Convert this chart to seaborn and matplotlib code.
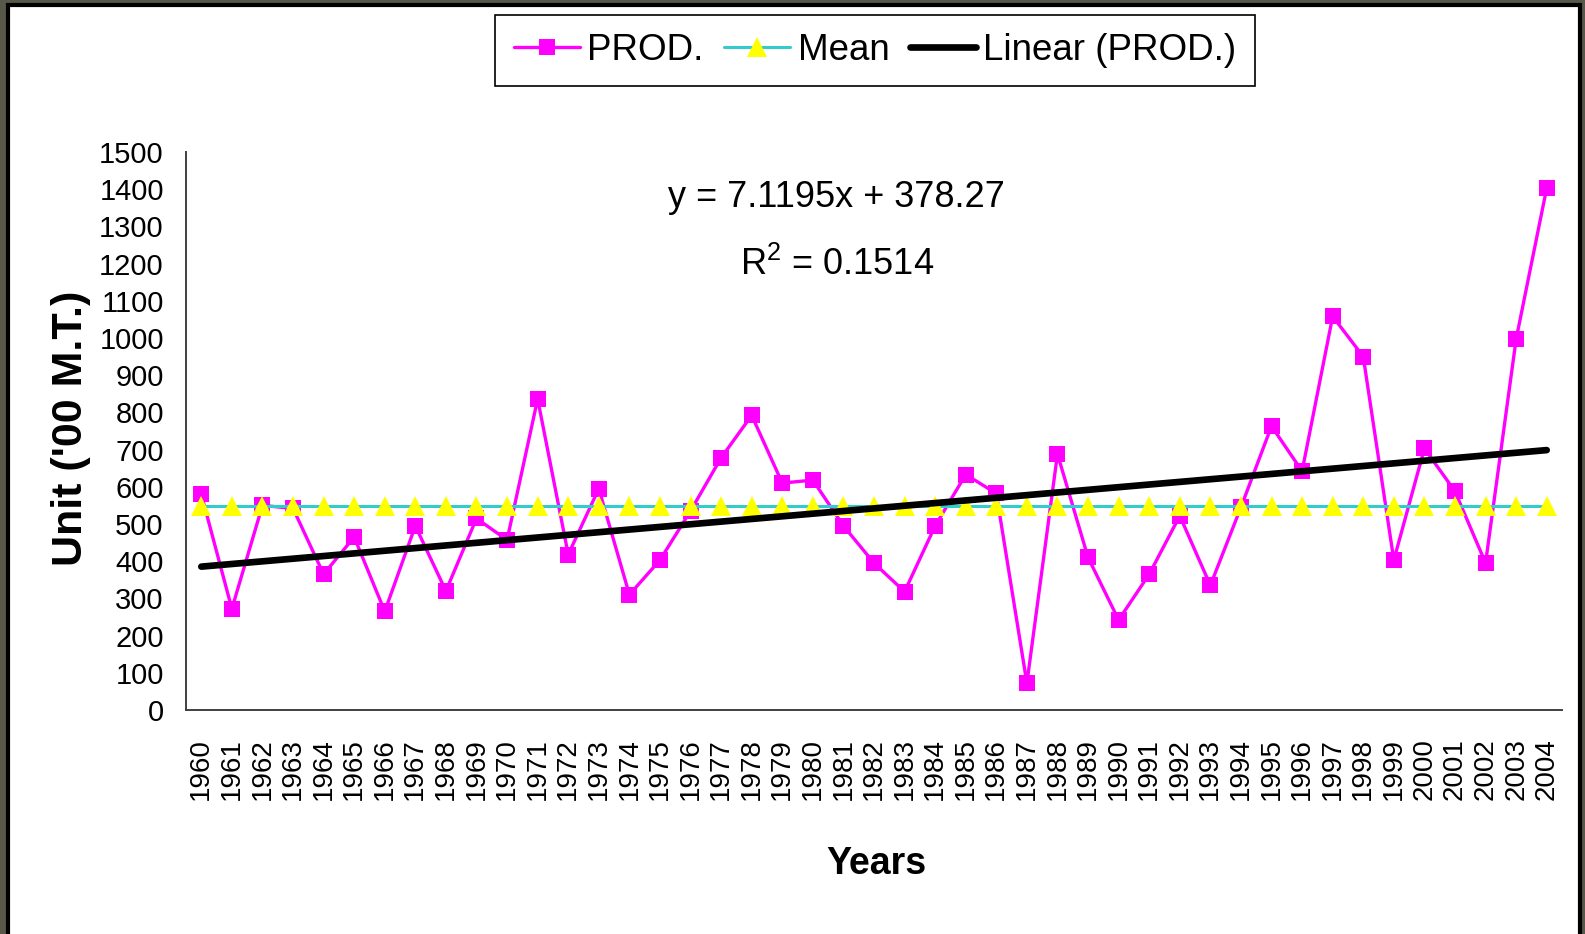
"""
PROD. time series 1960-2004 with mean line and linear trend
"""

import numpy as np
import matplotlib
matplotlib.use("Agg")
import matplotlib.pyplot as plt
import seaborn as sns
from matplotlib import font_manager
from matplotlib.patches import Rectangle

# ========== data ==========
years = list(range(1960, 2005))
prod = [580, 272, 550, 542, 365, 465, 265, 495, 320, 515,
        457, 836, 418, 595, 310, 403, 535, 678, 792, 610,
        618, 495, 395, 318, 495, 633, 582, 72, 688, 410,
        242, 365, 522, 335, 545, 763, 642, 1058, 950, 403,
        703, 588, 395, 997, 1403]
trend_slope = 7.1195
trend_intercept = 378.27
r_squared = 0.1514
y_ticks = list(range(0, 1501, 100))

# ========== style ==========
sns.set_style("white")
names = {f.name for f in font_manager.fontManager.ttflist}
narrow = "Liberation Sans Narrow" if "Liberation Sans Narrow" in names else "Liberation Sans"
plt.rcParams["font.family"] = [narrow, "DejaVu Sans"]
plt.rcParams["mathtext.fontset"] = "custom"
plt.rcParams["mathtext.rm"] = narrow
plt.rcParams["mathtext.it"] = narrow
for key in ["text.color", "axes.labelcolor", "xtick.color", "ytick.color"]:
    plt.rcParams[key] = "black"

idx = np.arange(len(years))
mean_vals = np.full(len(years), np.mean(prod))
trend = trend_intercept + trend_slope * (idx + 1)

fig = plt.figure(figsize=(15.85, 9.34), dpi=100, facecolor="#575849")
# white panel with black border
fig.patches.append(Rectangle((8 / 1585, -0.01), (1580 - 8) / 1585, 1 - 5 / 934 + 0.01,
                             transform=fig.transFigure, facecolor="white",
                             edgecolor="black", lw=3, zorder=-10))

ax = fig.add_axes([186 / 1585, 1 - 710 / 934, (1562 - 186) / 1585, (710 - 152) / 934])
ax.set_zorder(1)
ax.set_facecolor("white")

sns.lineplot(x=idx, y=prod, ax=ax, color="#FF00FF", lw=2.4, marker="s",
             markersize=11, markeredgewidth=0, label="PROD.")
sns.lineplot(x=idx, y=mean_vals, ax=ax, color="#33CCCC", lw=2.2, marker="^",
             markersize=14, markerfacecolor="#FFFF00", markeredgecolor="#FFFF00",
             markeredgewidth=0, label="Mean")
sns.lineplot(x=idx, y=trend, ax=ax, color="black", lw=4.8, label="Linear (PROD.)")

# axes
ax.set_xlim(-0.5, len(years) - 0.5)
ax.set_ylim(0, 1500)
ax.set_yticks(y_ticks)
ax.set_xticks(idx)
ax.set_xticklabels([str(y) for y in years], rotation=90)
ax.set_xticks(np.arange(-0.5, len(years), 1), minor=True)
ax.tick_params(axis="x", which="major", length=0, pad=20, labelsize=20, labelcolor="black")
ax.tick_params(axis="x", which="minor", length=10, width=1.2, color="#404040", direction="out")
ax.tick_params(axis="y", length=8, width=1.2, color="#404040", pad=8, labelsize=21,
               direction="out", labelcolor="black")
for s in ["top", "right"]:
    ax.spines[s].set_visible(False)
for s in ["left", "bottom"]:
    ax.spines[s].set_color("#404040")
    ax.spines[s].set_linewidth(1.4)

ax.set_xlabel("Years", fontsize=27, fontweight="bold", color="black",
              family=[narrow, "DejaVu Sans"])
ax.xaxis.set_label_coords(0.502, -0.243)
ax.set_ylabel("Unit ('00 M.T.)", fontsize=31, fontweight="bold", color="black",
              family=["Liberation Sans", "DejaVu Sans"])
ax.yaxis.set_label_coords(-0.069, 0.505)

# trend equation
ax.text(0.473, 0.918, f"y = {trend_slope}x + {trend_intercept}", transform=ax.transAxes,
        ha="center", va="center", fontsize=26, color="black")
ax.text(0.473, 0.797, f"R$^2$ = {r_squared}", transform=ax.transAxes,
        ha="center", va="center", fontsize=26, color="black")

leg = ax.legend(loc="center", bbox_to_anchor=(875 / 1585, 1 - 50.5 / 934),
                bbox_transform=fig.transFigure, ncol=3, frameon=True, fancybox=False,
                edgecolor="black", framealpha=1, fontsize=26.5, handlelength=1.8,
                handletextpad=0.2, columnspacing=0.55, borderpad=0.5)
leg.get_frame().set_linewidth(1.2)
for t in leg.get_texts():
    t.set_color("black")

plt.savefig("out.png", dpi=100, facecolor=fig.get_facecolor())
plt.close()
